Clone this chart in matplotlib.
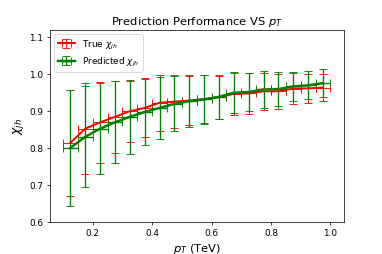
import numpy as np
import matplotlib
matplotlib.use('Agg')
import matplotlib.pyplot as plt

# pT bin centres (TeV), bins of width 0.05
pt = [0.125, 0.175, 0.225, 0.275, 0.325, 0.375, 0.425, 0.475, 0.525,
      0.575, 0.625, 0.675, 0.725, 0.775, 0.825, 0.875, 0.925, 0.975]
pt_err = 0.025

true_chi = [0.815, 0.853, 0.870, 0.885, 0.900, 0.909, 0.923, 0.926, 0.929,
            0.933, 0.938, 0.947, 0.948, 0.954, 0.954, 0.961, 0.962, 0.964]
true_err = [0.143, 0.124, 0.109, 0.097, 0.082, 0.080, 0.076, 0.071, 0.067,
            0.064, 0.058, 0.057, 0.056, 0.050, 0.048, 0.042, 0.040, 0.037]

pred_chi = [0.801, 0.831, 0.853, 0.870, 0.885, 0.898, 0.909, 0.920, 0.927,
            0.932, 0.939, 0.950, 0.952, 0.959, 0.960, 0.967, 0.970, 0.976]
pred_err = [0.157, 0.137, 0.123, 0.111, 0.100, 0.090, 0.083, 0.074, 0.070,
            0.066, 0.060, 0.056, 0.052, 0.049, 0.046, 0.040, 0.038, 0.037]

fig = plt.figure(figsize=(6, 4), dpi=382 / 6)
ax = fig.add_subplot(111)

ax.errorbar(pt, true_chi, xerr=pt_err, yerr=true_err, color='red',
            linewidth=2.2, elinewidth=1, capsize=4, label=r'True $\chi_{jh}$')
ax.errorbar(pt, pred_chi, xerr=pt_err, yerr=pred_err, color='green',
            linewidth=2.8, elinewidth=1.5, capsize=4, label=r'Predicted $\chi_{jh}$')

ax.set_ylim(0.6, 1.12)
ax.set_title(r'Prediction Performance VS $p_T$', fontsize=13)
ax.set_xlabel(r'$p_T$ (TeV)', fontsize=13)
ax.set_ylabel(r'$\chi_{jh}$', fontsize=14)
ax.legend(loc='upper left')

plt.subplots_adjust(left=0.13, right=0.9, top=0.88, bottom=0.125)
plt.savefig('out.png', dpi=382 / 6)
